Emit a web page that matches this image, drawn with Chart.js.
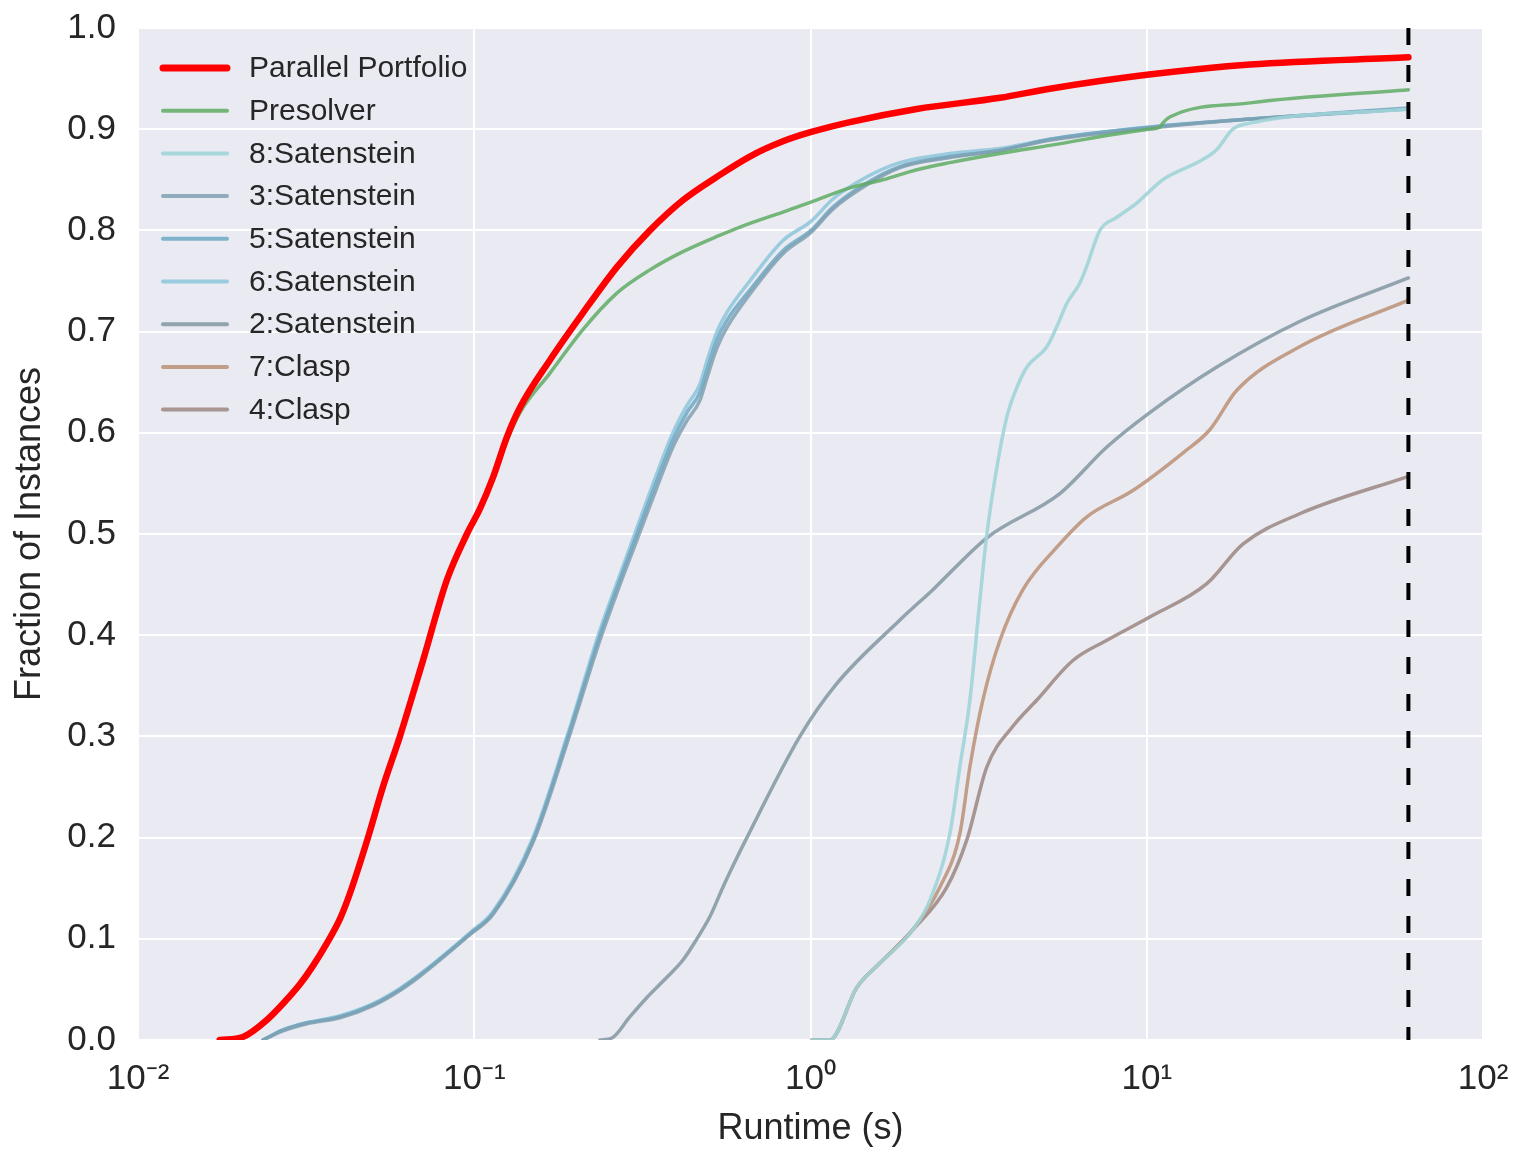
<!DOCTYPE html>
<html>
<head>
<meta charset="utf-8">
<script src="https://cdn.jsdelivr.net/npm/chart.js@4.4.0/dist/chart.umd.min.js"></script>
<style>
  html, body { margin: 0; padding: 0; background: #fff; }
</style>
</head>
<body>
<canvas id="chart" width="1519" height="1151"></canvas>
<script>
// runtime (s) and fraction of instances solved
const portfolioT = [0.0175, 0.0205, 0.0242, 0.0277, 0.0303, 0.0331, 0.0365, 0.0399, 0.0427, 0.0483, 0.0535, 0.0601, 0.0704, 0.083, 0.0951, 0.104, 0.1137, 0.1251, 0.1368, 0.168, 0.21, 0.266, 0.333, 0.418, 0.527, 0.66, 0.828, 1.0, 1.31, 2.07, 3.66, 5.15, 10.15, 20.3, 60];
const portfolioF = [0, 0.003, 0.02, 0.04, 0.055, 0.073, 0.096, 0.12, 0.145, 0.2, 0.25, 0.3, 0.375, 0.455, 0.5, 0.525, 0.556, 0.596, 0.625, 0.672, 0.718, 0.764, 0.8, 0.83, 0.853, 0.873, 0.888, 0.897, 0.907, 0.92, 0.931, 0.94, 0.954, 0.964, 0.971];

const presolverT = [0.0175, 0.0205, 0.0242, 0.0277, 0.0303, 0.0331, 0.0365, 0.0399, 0.0427, 0.0483, 0.0535, 0.0601, 0.0704, 0.083, 0.0951, 0.104, 0.1137, 0.1251, 0.1368, 0.168, 0.2104, 0.2656, 0.333, 0.4175, 0.527, 0.66, 0.828, 1.003, 1.31, 1.642, 2.07, 2.597, 3.66, 5.15, 10.15, 10.94, 11.16, 11.71, 20.3, 60];
const presolverF = [0, 0.003, 0.02, 0.04, 0.055, 0.073, 0.096, 0.12, 0.145, 0.2, 0.25, 0.3, 0.375, 0.455, 0.5, 0.525, 0.553, 0.592, 0.62, 0.659, 0.702, 0.738, 0.761, 0.779, 0.794, 0.807, 0.818, 0.828, 0.842, 0.85, 0.86, 0.867, 0.876, 0.884, 0.9, 0.902, 0.906, 0.912, 0.926, 0.939];

const sat8T = [1.01, 1.142, 1.374, 1.609, 2.016, 2.265, 2.597, 2.781, 2.979, 3.19, 3.346, 3.584, 3.837, 4.111, 4.402, 5.047, 5.404, 5.787, 6.327, 6.637, 7.254, 8.15, 9.34, 11.16, 14.68, 16.16, 18.03, 20.3, 60];
const sat8F = [0, 0, 0.052, 0.076, 0.109, 0.138, 0.204, 0.27, 0.336, 0.435, 0.5, 0.566, 0.616, 0.645, 0.665, 0.685, 0.705, 0.728, 0.748, 0.765, 0.8, 0.813, 0.827, 0.85, 0.87, 0.88, 0.9, 0.906, 0.92];

// 3, 5 and 6 share the same time points
const sat356T = [0.02354, 0.02699, 0.0318, 0.0399, 0.05, 0.0601, 0.0689, 0.0971, 0.1137, 0.1494, 0.19, 0.2365, 0.2713, 0.3047, 0.3494, 0.3898, 0.429, 0.469, 0.492, 0.527, 0.564, 0.66, 0.828, 1.003, 1.166, 1.472, 1.845, 2.597, 3.66, 5.15, 10.15, 20.3, 60];
const sat3F = [0, 0.009, 0.016, 0.022, 0.034, 0.049, 0.063, 0.104, 0.124, 0.195, 0.296, 0.395, 0.45, 0.494, 0.546, 0.586, 0.612, 0.632, 0.654, 0.684, 0.704, 0.737, 0.777, 0.798, 0.821, 0.845, 0.862, 0.872, 0.879, 0.889, 0.901, 0.91, 0.92];
const sat5F = [0, 0.01, 0.017, 0.023, 0.035, 0.05, 0.064, 0.105, 0.125, 0.197, 0.3, 0.4, 0.455, 0.5, 0.553, 0.593, 0.62, 0.64, 0.662, 0.692, 0.711, 0.741, 0.78, 0.8, 0.823, 0.847, 0.863, 0.873, 0.879, 0.89, 0.902, 0.91, 0.921];
const sat6F = [0, 0.01, 0.017, 0.024, 0.036, 0.051, 0.065, 0.106, 0.127, 0.2, 0.303, 0.405, 0.46, 0.506, 0.56, 0.6, 0.627, 0.648, 0.671, 0.7, 0.719, 0.75, 0.79, 0.809, 0.831, 0.853, 0.867, 0.876, 0.881, 0.89, 0.902, 0.91, 0.92];

const sat2T = [0.2365, 0.2567, 0.2904, 0.3263, 0.3741, 0.4175, 0.4594, 0.5023, 0.549, 0.604, 0.638, 0.93, 1.182, 1.845, 2.312, 3.369, 5.515, 7.61, 10.21, 16.16, 28.5, 60];
const sat2F = [0, 0.002, 0.023, 0.042, 0.062, 0.079, 0.1, 0.122, 0.151, 0.18, 0.196, 0.3, 0.35, 0.415, 0.445, 0.497, 0.54, 0.586, 0.62, 0.665, 0.71, 0.753];

const clasp7T = [1.01, 1.142, 1.374, 1.609, 2.016, 2.425, 2.781, 2.979, 3.256, 3.66, 4.283, 5.404, 6.637, 9.09, 12.8, 15.4, 18.53, 28.5, 60];
const clasp7F = [0, 0, 0.052, 0.076, 0.109, 0.151, 0.204, 0.27, 0.336, 0.395, 0.445, 0.487, 0.517, 0.543, 0.58, 0.603, 0.642, 0.685, 0.731];

const clasp4T = [1.01, 1.142, 1.374, 1.609, 2.016, 2.544, 2.918, 3.346, 3.998, 4.714, 6.03, 7.61, 10.21, 15.09, 19.31, 28.5, 60];
const clasp4F = [0, 0, 0.052, 0.076, 0.109, 0.151, 0.198, 0.27, 0.31, 0.336, 0.375, 0.395, 0.418, 0.451, 0.49, 0.52, 0.557];

const cutoff = 60;
const xTickValues = [0.01, 0.1, 1, 10, 100];
const xTickLabels = ["10\u207B\u00B2", "10\u207B\u00B9", "10\u2070", "10\u00B9", "10\u00B2"];

const FONT = "'Liberation Sans', Arial, sans-serif";
const TEXT = "#262626";

function pts(t, f) {
  return t.map((v, i) => ({ x: v, y: f[i] }));
}

function series(label, t, f, color, width, order) {
  return {
    label: label,
    data: pts(t, f),
    borderColor: color,
    borderWidth: width,
    pointRadius: 0,
    fill: false,
    cubicInterpolationMode: "monotone",
    borderCapStyle: "round",
    order: order
  };
}

const datasets = [
  {
    label: "cutoff",
    data: [{ x: cutoff, y: 1 }, { x: cutoff, y: 0 }],
    borderColor: "#000",
    borderWidth: 4,
    borderDash: [17, 20],
    pointRadius: 0,
    order: 0
  },
  series("Parallel Portfolio", portfolioT, portfolioF, "#ff0000", 6.5, 1),
  series("Presolver", presolverT, presolverF, "rgba(95,172,100,0.85)", 3.5, 2),
  series("8:Satenstein", sat8T, sat8F, "rgba(160,212,216,0.9)", 3.5, 3),
  series("3:Satenstein", sat356T, sat3F, "rgba(128,160,178,0.85)", 3.5, 4),
  series("5:Satenstein", sat356T, sat5F, "rgba(108,168,196,0.85)", 3.5, 5),
  series("6:Satenstein", sat356T, sat6F, "rgba(140,198,218,0.85)", 3.5, 6),
  series("2:Satenstein", sat2T, sat2F, "rgba(135,155,165,0.9)", 3.5, 7),
  series("7:Clasp", clasp7T, clasp7F, "rgba(190,150,125,0.9)", 3.5, 8),
  series("4:Clasp", clasp4T, clasp4F, "rgba(160,140,135,0.9)", 3.5, 9)
];

// grey plot background
const plotBg = {
  id: "plotBg",
  beforeDraw(chart) {
    const a = chart.chartArea;
    const ctx = chart.ctx;
    ctx.save();
    ctx.fillStyle = "#eaeaf2";
    ctx.fillRect(a.left, a.top, a.right - a.left, a.bottom - a.top);
    ctx.restore();
  }
};

// legend inside the top-left corner of the plot
const innerLegend = {
  id: "innerLegend",
  afterDatasetsDraw(chart) {
    const a = chart.chartArea;
    const ctx = chart.ctx;
    const items = chart.data.datasets.filter(d => d.label !== "cutoff");
    ctx.save();
    ctx.font = "30px " + FONT;
    ctx.textBaseline = "middle";
    ctx.textAlign = "left";
    items.forEach((d, i) => {
      const y = a.top + 40 + i * 42.7;
      ctx.beginPath();
      ctx.strokeStyle = d.borderColor;
      ctx.lineWidth = d.label === "Parallel Portfolio" ? 7 : 4;
      ctx.lineCap = "round";
      ctx.moveTo(a.left + 25, y);
      ctx.lineTo(a.left + 89, y);
      ctx.stroke();
      ctx.fillStyle = TEXT;
      ctx.fillText(d.label, a.left + 111, y + 1);
    });
    ctx.restore();
  }
};

new Chart(document.getElementById("chart").getContext("2d"), {
  type: "line",
  data: { datasets: datasets },
  plugins: [plotBg, innerLegend],
  options: {
    responsive: false,
    animation: false,
    layout: { padding: { top: 28, right: 36, left: 0, bottom: 0 } },
    plugins: {
      legend: { display: false },
      tooltip: { enabled: false }
    },
    scales: {
      x: {
        type: "logarithmic",
        min: 0.01,
        max: 100,
        border: { display: false },
        grid: { color: "#ffffff", lineWidth: 2, drawTicks: false },
        afterBuildTicks: scale => {
          scale.ticks = xTickValues.map(v => ({ value: v }));
        },
        afterFit: scale => {
          scale.height = 111;
          scale.paddingLeft = 0;
          scale.paddingRight = 0;
        },
        ticks: {
          color: TEXT,
          font: { family: FONT, size: 35 },
          padding: 18,
          maxRotation: 0,
          autoSkip: false,
          callback: (v) => {
            const i = xTickValues.indexOf(v);
            return i >= 0 ? xTickLabels[i] : "";
          }
        },
        title: {
          display: true,
          text: "Runtime (s)",
          color: TEXT,
          font: { family: FONT, size: 36 },
          padding: { top: 2, bottom: 0 }
        }
      },
      y: {
        type: "linear",
        min: 0,
        max: 1,
        border: { display: false },
        grid: { color: "#ffffff", lineWidth: 2, drawTicks: false },
        afterFit: scale => {
          scale.width = 138;
          scale.paddingTop = 0;
          scale.paddingBottom = 0;
        },
        ticks: {
          stepSize: 0.1,
          color: TEXT,
          font: { family: FONT, size: 35 },
          padding: 22,
          callback: v => v.toFixed(1)
        },
        title: {
          display: true,
          text: "Fraction of Instances",
          color: TEXT,
          font: { family: FONT, size: 36 },
          padding: { top: 8, bottom: 0 }
        }
      }
    }
  }
});
</script>
</body>
</html>
